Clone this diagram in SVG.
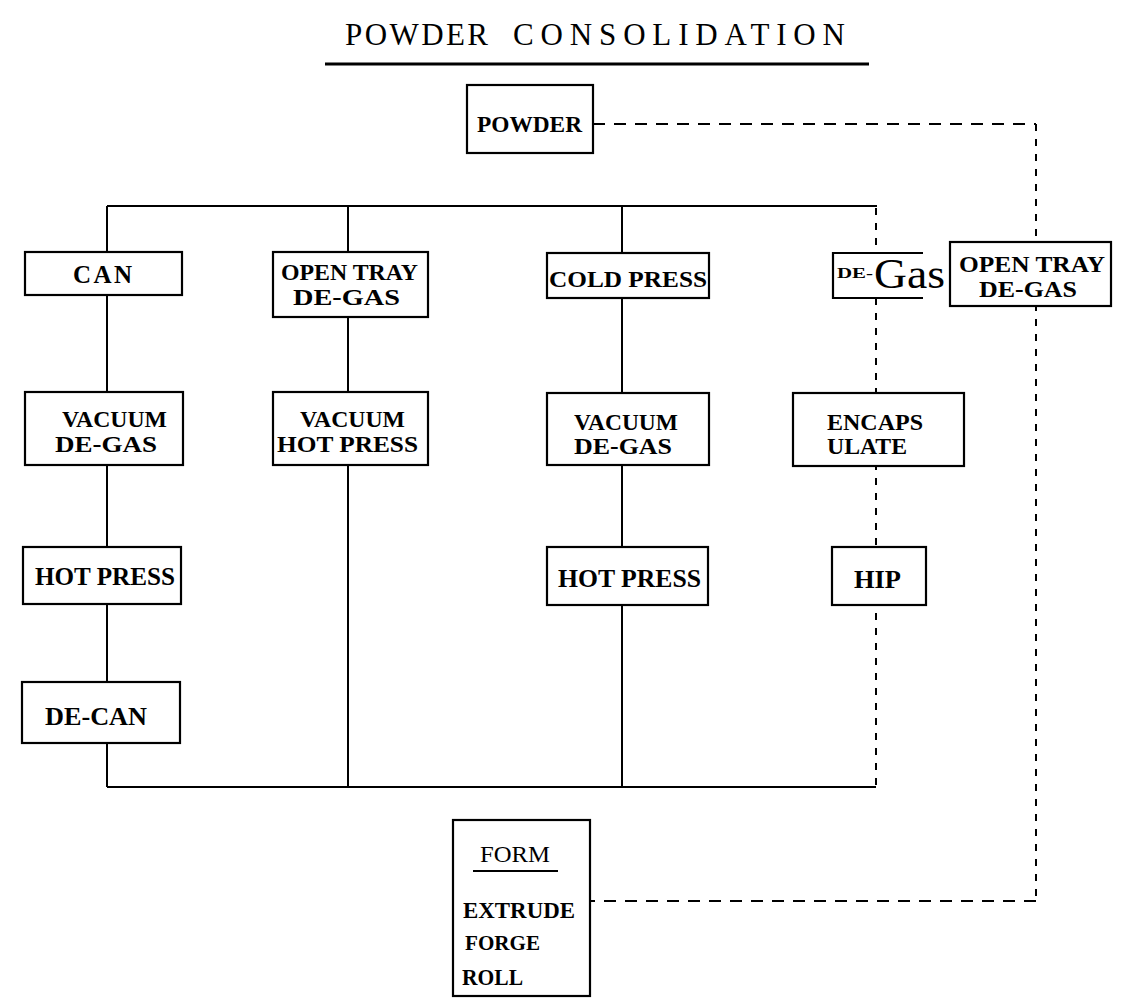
<svg xmlns="http://www.w3.org/2000/svg" width="1124" height="999" viewBox="0 0 1124 999">
<style>
.bg{fill:#fff}
.box{fill:#fff;stroke:#000;stroke-width:2.2}
.ln{fill:none;stroke:#000;stroke-width:2}
.dash{fill:none;stroke:#000;stroke-width:2;stroke-dasharray:12 9}
.vdash{fill:none;stroke:#000;stroke-width:2;stroke-dasharray:7 8}
.t{font-family:"Liberation Serif","Times New Roman",serif;font-weight:bold;fill:#000}
.r{font-family:"Liberation Serif","Times New Roman",serif;fill:#000}
</style>
<rect class="bg" x="0" y="0" width="1124" height="999"/>
<g id="title">
<text class="r" x="345" y="45" font-size="31" textLength="143" lengthAdjust="spacing">POWDER</text>
<text class="r" x="513" y="45" font-size="31" textLength="332" lengthAdjust="spacing">CONSOLIDATION</text>
<line x1="325" y1="64" x2="869" y2="64" stroke="#000" stroke-width="3"/>
</g>
<g id="connectors">
<line class="ln" x1="107" y1="206" x2="877" y2="206"/>
<line class="ln" x1="107" y1="787" x2="876" y2="787"/>
<line class="ln" x1="107" y1="206" x2="107" y2="787"/>
<line class="ln" x1="348" y1="206" x2="348" y2="787"/>
<line class="ln" x1="622" y1="206" x2="622" y2="787"/>
<line class="vdash" x1="876" y1="208" x2="876" y2="787"/>
<polyline class="dash" points="593,124 1036,124"/>
<polyline class="vdash" points="1036,124 1036,901"/>
<polyline class="dash" points="1036,901 590,901"/>
</g>
<g id="powder">
<rect class="box" x="467" y="85" width="126" height="68"/>
<text class="t" x="477" y="132" font-size="24" textLength="105" lengthAdjust="spacingAndGlyphs">POWDER</text>
</g>
<g id="can">
<rect class="box" x="25" y="252" width="157" height="43"/>
<text class="t" x="73" y="283" font-size="25" textLength="59" lengthAdjust="spacing">CAN</text>
</g>
<g id="open-tray-1">
<rect class="box" x="273" y="252" width="155" height="65"/>
<text class="t" x="281" y="280" font-size="24" textLength="137" lengthAdjust="spacingAndGlyphs">OPEN TRAY</text>
<text class="t" x="293" y="305" font-size="24" textLength="107" lengthAdjust="spacingAndGlyphs">DE-GAS</text>
</g>
<g id="cold-press">
<rect class="box" x="547" y="253" width="162" height="45"/>
<text class="t" x="549" y="287" font-size="23" textLength="158" lengthAdjust="spacingAndGlyphs">COLD PRESS</text>
</g>
<g id="de-gas">
<path class="box" d="M923,253 H833 V298 H923"/>
<text class="t" x="837" y="278" font-size="15" textLength="36" lengthAdjust="spacingAndGlyphs">DE-</text>
<text class="r" x="874" y="288" font-size="42" textLength="71" lengthAdjust="spacingAndGlyphs">Gas</text>
</g>
<g id="open-tray-2">
<rect class="box" x="950" y="242" width="161" height="64"/>
<text class="t" x="959" y="272" font-size="24" textLength="146" lengthAdjust="spacingAndGlyphs">OPEN TRAY</text>
<text class="t" x="979" y="297" font-size="24" textLength="98" lengthAdjust="spacingAndGlyphs">DE-GAS</text>
</g>
<g id="vacuum-degas-1">
<rect class="box" x="25" y="392" width="158" height="73"/>
<text class="t" x="62" y="427" font-size="23" textLength="105" lengthAdjust="spacingAndGlyphs">VACUUM</text>
<text class="t" x="55" y="452" font-size="23" textLength="102" lengthAdjust="spacingAndGlyphs">DE-GAS</text>
</g>
<g id="vacuum-hot-press">
<rect class="box" x="273" y="392" width="155" height="73"/>
<text class="t" x="300" y="427" font-size="23" textLength="105" lengthAdjust="spacingAndGlyphs">VACUUM</text>
<text class="t" x="277" y="452" font-size="23" textLength="141" lengthAdjust="spacingAndGlyphs">HOT PRESS</text>
</g>
<g id="vacuum-degas-3">
<rect class="box" x="547" y="393" width="162" height="72"/>
<text class="t" x="574" y="430" font-size="23" textLength="104" lengthAdjust="spacingAndGlyphs">VACUUM</text>
<text class="t" x="574" y="454" font-size="23" textLength="98" lengthAdjust="spacingAndGlyphs">DE-GAS</text>
</g>
<g id="encapsulate">
<rect class="box" x="793" y="393" width="171" height="73"/>
<text class="t" x="827" y="430" font-size="24" textLength="96" lengthAdjust="spacingAndGlyphs">ENCAPS</text>
<text class="t" x="827" y="454" font-size="24" textLength="80" lengthAdjust="spacingAndGlyphs">ULATE</text>
</g>
<g id="hot-press-1">
<rect class="box" x="23" y="547" width="158" height="57"/>
<text class="t" x="35" y="585" font-size="25" textLength="140" lengthAdjust="spacingAndGlyphs">HOT PRESS</text>
</g>
<g id="hot-press-3">
<rect class="box" x="547" y="547" width="161" height="58"/>
<text class="t" x="558" y="587" font-size="25" textLength="143" lengthAdjust="spacingAndGlyphs">HOT PRESS</text>
</g>
<g id="hip">
<rect class="box" x="832" y="547" width="94" height="58"/>
<text class="t" x="854" y="588" font-size="25" textLength="47" lengthAdjust="spacingAndGlyphs">HIP</text>
</g>
<g id="de-can">
<rect class="box" x="22" y="682" width="158" height="61"/>
<text class="t" x="45" y="725" font-size="25" textLength="102" lengthAdjust="spacingAndGlyphs">DE-CAN</text>
</g>
<g id="form">
<rect class="box" x="453" y="820" width="137" height="176"/>
<text class="r" x="480" y="862" font-size="23" textLength="70" lengthAdjust="spacingAndGlyphs">FORM</text>
<line x1="473" y1="871" x2="558" y2="871" stroke="#000" stroke-width="2"/>
<text class="t" x="463" y="918" font-size="24" textLength="112" lengthAdjust="spacingAndGlyphs">EXTRUDE</text>
<text class="t" x="465" y="950" font-size="20" textLength="75" lengthAdjust="spacingAndGlyphs">FORGE</text>
<text class="t" x="462" y="985" font-size="24" textLength="61" lengthAdjust="spacingAndGlyphs">ROLL</text>
</g>
</svg>
